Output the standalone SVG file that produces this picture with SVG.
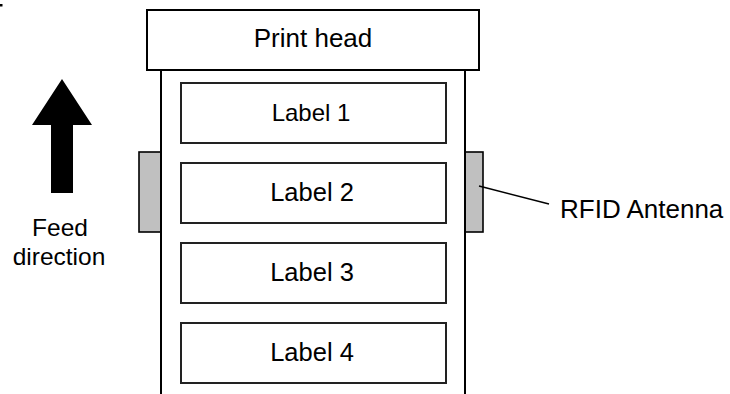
<svg xmlns="http://www.w3.org/2000/svg" width="730" height="394" viewBox="0 0 730 394">
<style>
.box{fill:#fff;stroke:#000;stroke-width:2}
.lbl{fill:#fff;stroke:#222;stroke-width:2}
.ant{fill:#c0c0c0;stroke:#000;stroke-width:1.6}
.edge{stroke:#000;stroke-width:2;fill:none}
.t{font-family:"Liberation Sans",Arial,sans-serif;fill:#000;text-anchor:middle}
</style>
<rect x="0" y="4" width="2.5" height="2.5" fill="#000"/>
<g id="feed-arrow">
<polygon points="62,79 92,125 73,125 73,193 51,193 51,125 32,125" fill="#000"/>
<text class="t" x="60" y="236" font-size="24.5">Feed</text>
<text class="t" x="59" y="265" font-size="24.5">direction</text>
</g>
<g id="antenna-left"><rect class="ant" x="139" y="152" width="22" height="80"/></g>
<g id="antenna-right"><rect class="ant" x="465" y="152" width="18" height="80"/></g>
<g id="paper">
<line class="edge" x1="161" y1="70" x2="161" y2="394"/>
<line class="edge" x1="465" y1="70" x2="465" y2="394"/>
</g>
<g id="print-head">
<rect class="box" x="147" y="10" width="332" height="60"/>
<text class="t" x="313" y="47" font-size="26">Print head</text>
</g>
<g id="label1"><rect class="lbl" x="181" y="83" width="265" height="60"/><text class="t" x="311" y="121" font-size="24">Label 1</text></g>
<g id="label2"><rect class="lbl" x="181" y="163" width="265" height="60"/><text class="t" x="312" y="201" font-size="25.5">Label 2</text></g>
<g id="label3"><rect class="lbl" x="181" y="243" width="265" height="60"/><text class="t" x="312" y="281" font-size="25.5">Label 3</text></g>
<g id="label4"><rect class="lbl" x="181" y="323" width="265" height="60"/><text class="t" x="312" y="361" font-size="25.5">Label 4</text></g>
<g id="connectors">
<line x1="479" y1="186" x2="549" y2="204" stroke="#000" stroke-width="1.6"/>
</g>
<g id="rfid-label">
<text x="560" y="218" font-size="26" font-family="'Liberation Sans',Arial,sans-serif" fill="#000">RFID Antenna</text>
</g>
</svg>
